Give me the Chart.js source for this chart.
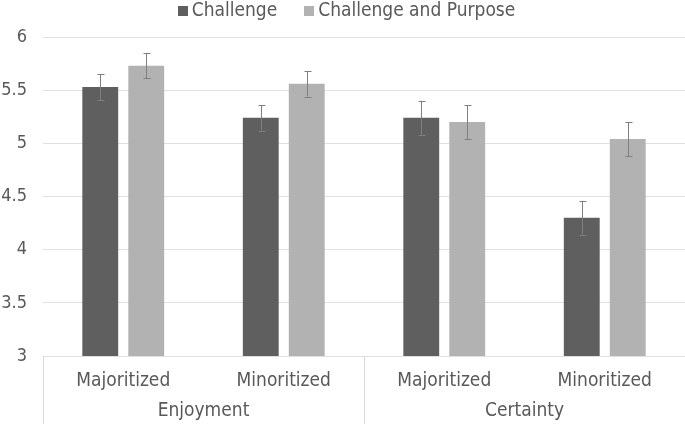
<!DOCTYPE html>
<html>
<head>
<meta charset="utf-8">
<script src="https://cdn.jsdelivr.net/npm/chart.js@4/dist/chart.umd.min.js"></script>
<style>
  html, body { margin: 0; padding: 0; background: #fff; }
  #wrap { width: 685px; height: 424px; }
</style>
</head>
<body>
<div id="wrap"><canvas id="barChart" width="685" height="424"></canvas></div>
<script>
// chart data
const groupLabels = ['Enjoyment', 'Certainty'];
const subLabels = ['Majoritized', 'Minoritized', 'Majoritized', 'Minoritized'];
const seriesNames = ['Challenge', 'Challenge and Purpose'];
const challengeValues = [5.53, 5.24, 5.24, 4.30];
const challengeErrors = [0.12, 0.12, 0.16, 0.16];
const purposeValues = [5.73, 5.56, 5.20, 5.04];
const purposeErrors = [0.12, 0.12, 0.16, 0.16];
const yTicks = [3, 3.5, 4, 4.5, 5, 5.5, 6];

const textColor = '#595959';
const fontFamily = "DejaVu Sans Condensed, DejaVu Sans, sans-serif";

// error bars drawn through the y scale
const errorBarPlugin = {
    id: 'errorBars',
    afterDatasetsDraw(chart) {
        const ctx = chart.ctx;
        const yScale = chart.scales.y;
        ctx.save();
        ctx.strokeStyle = '#7f7f7f';
        ctx.lineWidth = 1;
        chart.data.datasets.forEach((ds, i) => {
            const meta = chart.getDatasetMeta(i);
            meta.data.forEach((bar, j) => {
                const v = ds.data[j];
                const e = ds.errors[j];
                const x = Math.round(bar.x) + 0.5;
                const top = yScale.getPixelForValue(v + e);
                const bottom = yScale.getPixelForValue(v - e);
                ctx.beginPath();
                ctx.moveTo(x, top);
                ctx.lineTo(x, bottom);
                ctx.moveTo(x - 3, Math.round(top) + 0.5);
                ctx.lineTo(x + 4, Math.round(top) + 0.5);
                ctx.moveTo(x - 3, Math.round(bottom) + 0.5);
                ctx.lineTo(x + 4, Math.round(bottom) + 0.5);
                ctx.stroke();
            });
        });
        ctx.restore();
    }
};

// box lines of the two-level category axis
const categoryBoxPlugin = {
    id: 'categoryBox',
    afterDraw(chart) {
        const ctx = chart.ctx;
        const xScale = chart.scales.x;
        const top = chart.chartArea.bottom;
        const bottom = chart.height;
        const bounds = [-0.5, 1.5, 3.5];
        ctx.save();
        ctx.strokeStyle = '#d9d9d9';
        ctx.lineWidth = 1;
        bounds.forEach(b => {
            const x = Math.round(xScale.getPixelForValue(b)) + 0.5;
            ctx.beginPath();
            ctx.moveTo(x, top);
            ctx.lineTo(x, bottom);
            ctx.stroke();
        });
        ctx.restore();
    }
};

// legend drawn at the top, centred, from the datasets
const topLegendPlugin = {
    id: 'topLegend',
    afterDraw(chart) {
        const ctx = chart.ctx;
        const box = 10, gap = 4, spacing = 27, y = 10;
        ctx.save();
        ctx.font = '19px ' + fontFamily;
        ctx.textBaseline = 'middle';
        const items = chart.data.datasets.map(ds => ({
            text: ds.label,
            color: ds.backgroundColor,
            w: box + gap + ctx.measureText(ds.label).width
        }));
        const total = items.reduce((s, it) => s + it.w, 0) + spacing * (items.length - 1);
        let x = chart.width / 2 - total / 2 + 4;
        items.forEach(it => {
            ctx.fillStyle = it.color;
            ctx.fillRect(Math.round(x), y - 4, box, box);
            ctx.fillStyle = textColor;
            ctx.fillText(it.text, x + box + gap, y + 1);
            x += it.w + spacing;
        });
        ctx.restore();
    }
};

const ctx = document.getElementById('barChart').getContext('2d');
new Chart(ctx, {
    type: 'bar',
    data: {
        labels: subLabels,
        datasets: [{
            label: seriesNames[0],
            data: challengeValues,
            errors: challengeErrors,
            backgroundColor: '#5f5f5f'
        }, {
            label: seriesNames[1],
            data: purposeValues,
            errors: purposeErrors,
            backgroundColor: '#b2b2b2'
        }]
    },
    options: {
        responsive: false,
        animation: false,
        devicePixelRatio: 1,
        categoryPercentage: 0.573,
        barPercentage: 0.78,
        layout: {
            padding: { top: 37, right: 0, bottom: 0, left: 0 }
        },
        plugins: {
            legend: { display: false },
            tooltip: { enabled: false }
        },
        scales: {
            y: {
                min: 3,
                max: 6,
                afterBuildTicks: axis => {
                    axis.ticks = yTicks.map(v => ({ value: v }));
                },
                afterFit: axis => { axis.width = 43; },
                grid: { color: '#e0e0e0', drawTicks: false },
                border: { display: false },
                ticks: {
                    color: textColor,
                    padding: 16,
                    callback: v => String(v),
                    font: { family: fontFamily, size: 18 }
                }
            },
            x: {
                grid: { display: false },
                border: { display: false },
                afterFit: axis => { axis.height = 36; },
                ticks: {
                    color: textColor,
                    padding: 6,
                    maxRotation: 0,
                    font: { family: fontFamily, size: 19 }
                }
            },
            x2: {
                type: 'category',
                position: 'bottom',
                labels: groupLabels,
                offset: true,
                grid: { display: false },
                border: { display: false },
                afterFit: axis => { axis.height = 32; },
                ticks: {
                    color: textColor,
                    padding: 0,
                    maxRotation: 0,
                    font: { family: fontFamily, size: 19 }
                }
            }
        }
    },
    plugins: [errorBarPlugin, categoryBoxPlugin, topLegendPlugin]
});
</script>
</body>
</html>
